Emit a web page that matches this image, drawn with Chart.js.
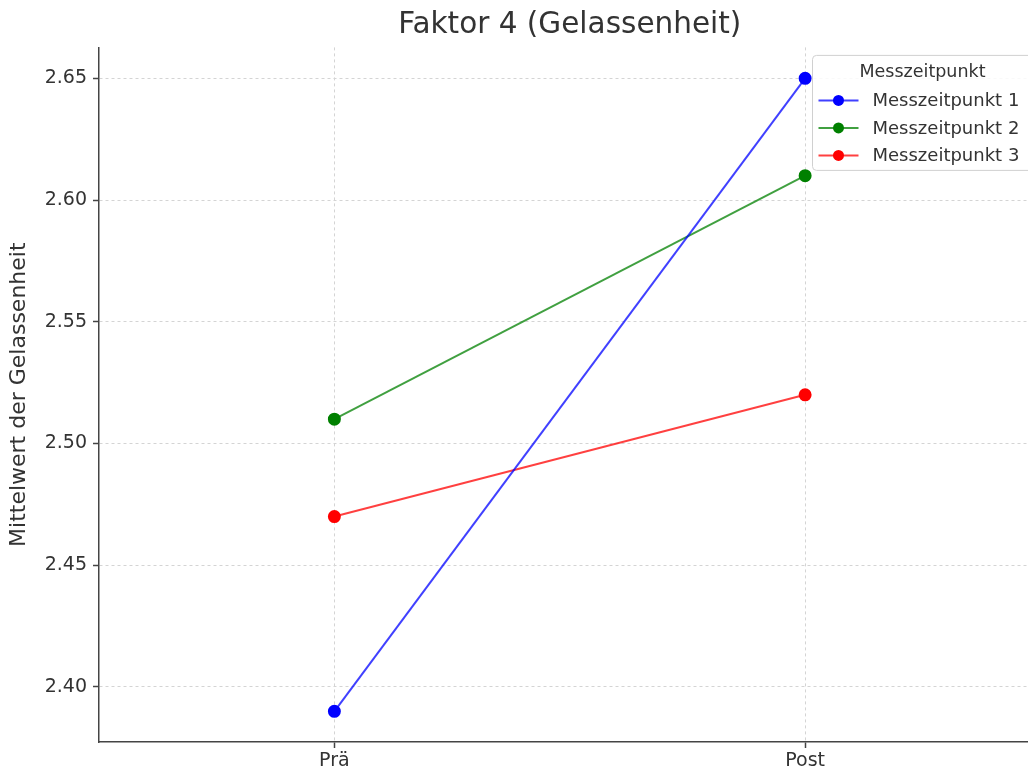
<!DOCTYPE html>
<html>
<head>
<meta charset="utf-8">
<script src="https://cdn.jsdelivr.net/npm/chart.js@4"></script>
<style>
    html, body { margin: 0; padding: 0; background: #fff; overflow: hidden; }
    #wrap { width: 1028px; height: 773px; overflow: hidden; }
    #wrap canvas { display: block; }
</style>
</head>
<body>
<div id="wrap"><canvas id="chart" width="1048" height="773"></canvas></div>
<script>
// Messzeitpunkte Prä / Post
const categories = ['Prä', 'Post'];
const seriesNames = ['Messzeitpunkt 1', 'Messzeitpunkt 2', 'Messzeitpunkt 3'];
const mzp1 = [2.39, 2.65];
const mzp2 = [2.51, 2.61];
const mzp3 = [2.47, 2.52];
const yTicks = [2.40, 2.45, 2.50, 2.55, 2.60, 2.65];

const colors = ['#0000ff', '#008000', '#ff0000'];
const lineColors = ['rgba(0,0,255,0.75)', 'rgba(0,128,0,0.75)', 'rgba(255,0,0,0.75)'];
const FONT = "'DejaVu Sans', sans-serif";

// legend box drawn inside the plot, matplotlib style
const boxLegend = {
    id: 'boxLegend',
    afterDraw(chart) {
        const ctx = chart.ctx;
        const area = chart.chartArea;
        const w = 224, h = 115;
        const x = area.right - 228, y = area.top + 8;
        ctx.save();
        ctx.beginPath();
        ctx.roundRect(x, y, w, h, 4);
        ctx.fillStyle = 'rgba(255,255,255,0.85)';
        ctx.fill();
        ctx.strokeStyle = '#d0d0d0';
        ctx.lineWidth = 1;
        ctx.stroke();

        ctx.fillStyle = '#333';
        ctx.font = '17.5px ' + FONT;
        ctx.textAlign = 'center';
        ctx.textBaseline = 'middle';
        ctx.fillText('Messzeitpunkt', x + 110, y + 17);

        ctx.textAlign = 'left';
        ctx.font = '18px ' + FONT;
        chart.data.datasets.forEach((ds, i) => {
            const cy = y + 45 + i * 27.5;
            ctx.strokeStyle = ds.borderColor;
            ctx.lineWidth = 2;
            ctx.beginPath();
            ctx.moveTo(x + 6, cy);
            ctx.lineTo(x + 46, cy);
            ctx.stroke();
            ctx.fillStyle = ds.pointBackgroundColor;
            ctx.beginPath();
            ctx.arc(x + 26, cy, 5.5, 0, Math.PI * 2);
            ctx.fill();
            ctx.fillStyle = '#333';
            ctx.fillText(ds.label, x + 60, cy + 1);
        });
        ctx.restore();
    }
};

const allSeries = [mzp1, mzp2, mzp3];

new Chart(document.getElementById('chart'), {
    type: 'line',
    data: {
        labels: categories,
        datasets: allSeries.map((vals, i) => ({
            label: seriesNames[i],
            data: vals,
            borderColor: lineColors[i],
            backgroundColor: colors[i],
            pointBackgroundColor: colors[i],
            pointBorderColor: colors[i],
            pointRadius: 5.5,
            borderWidth: 2,
            tension: 0
        }))
    },
    options: {
        responsive: false,
        animation: false,
        layout: { padding: { left: 0, right: 5, top: 0, bottom: 0 } },
        plugins: {
            legend: { display: false },
            tooltip: { enabled: false },
            title: {
                display: true,
                text: 'Faktor 4 (Gelassenheit)',
                fullSize: false,
                color: '#333',
                font: { family: FONT, size: 29.5, weight: 'normal' },
                padding: { top: 8, bottom: 4 }
            }
        },
        scales: {
            x: {
                type: 'category',
                offset: true,
                grid: {
                    offset: false,
                    color: '#d4d4d4',
                    lineWidth: 1,
                    tickLength: 6,
                    tickWidth: 1.5,
                    tickColor: '#444',
                    tickBorderDash: []
                },
                border: { display: true, color: '#444', width: 1.5, dash: [3, 3] },
                ticks: {
                    color: '#333',
                    font: { family: FONT, size: 19 },
                    padding: 2
                },
                afterFit(scale) { scale.height = 31; }
            },
            y: {
                min: 2.3774,
                max: 2.6627,
                grid: {
                    color: '#d4d4d4',
                    lineWidth: 1,
                    tickLength: 6,
                    tickWidth: 1.5,
                    tickColor: '#444',
                    tickBorderDash: []
                },
                border: { display: true, color: '#444', width: 1.5, dash: [3, 3] },
                ticks: {
                    color: '#333',
                    font: { family: FONT, size: 19 },
                    padding: 6,
                    callback: v => Number(v).toFixed(2)
                },
                afterBuildTicks(scale) {
                    scale.ticks = yTicks.map(v => ({ value: v }));
                },
                title: {
                    display: true,
                    text: 'Mittelwert der Gelassenheit',
                    color: '#333',
                    font: { family: FONT, size: 22 },
                    padding: { top: 6, bottom: 0 }
                },
                afterFit(scale) { scale.width = 99; }
            }
        }
    },
    plugins: [boxLegend]
});
</script>
</body>
</html>
